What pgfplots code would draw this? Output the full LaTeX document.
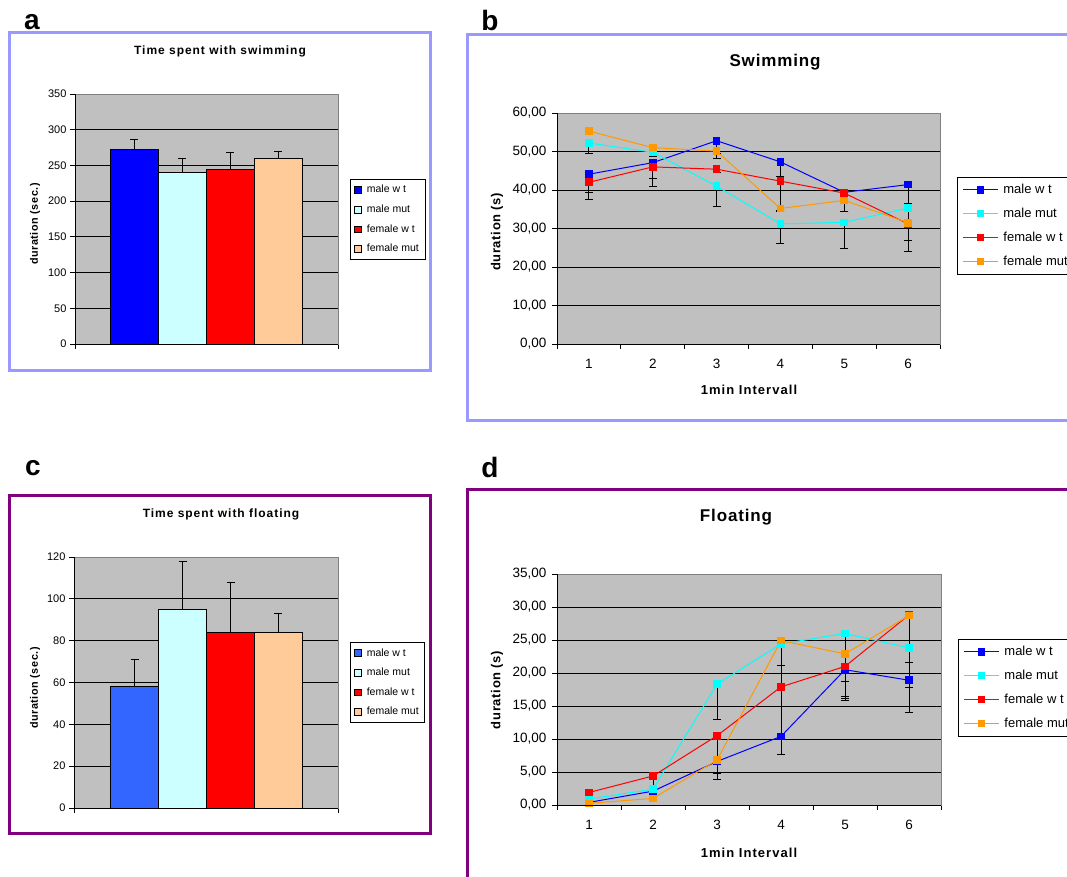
\documentclass[border=0pt]{standalone}
\usepackage{pgfplots}
\pgfplotsset{compat=1.18}
\usepackage{fontspec}
\setmainfont{Liberation Sans}
\newfontfamily\spA[LetterSpace=8]{Liberation Sans}
\newfontfamily\spB[LetterSpace=5]{Liberation Sans}
\definecolor{frameA}{RGB}{153,153,255}
\definecolor{frameC}{RGB}{128,0,128}
\definecolor{plotbg}{RGB}{192,192,192}
\definecolor{cBlue}{RGB}{0,0,255}
\definecolor{cBlueC}{RGB}{51,102,255}
\definecolor{cLight}{RGB}{204,255,255}
\definecolor{cRed}{RGB}{255,0,0}
\definecolor{cPeach}{RGB}{255,204,153}
\definecolor{cCyan}{RGB}{0,255,255}
\definecolor{cOrange}{RGB}{255,153,0}
\definecolor{borderGray}{RGB}{128,128,128}

\pgfplotsset{
  excelbase/.style={
    scale only axis,
    axis background/.style={fill=plotbg},
    axis line style={borderGray, line width=0.8pt},
    tick style={black, line width=0.8pt},
    tick align=outside,
    major tick length=5pt,
    ymajorgrids,
    major grid style={black, line width=0.8pt},
    tick pos=left,
    /pgf/number format/assume math mode=true,
    legend cell align=left,
    after end axis/.code={
      \draw[borderGray, line width=0.8pt] (rel axis cs:0,1) -- (rel axis cs:1,1) -- (rel axis cs:1,0);
      \draw[black, line width=0.8pt] (rel axis cs:0,1) -- (rel axis cs:0,0) -- (rel axis cs:1,0);
    },
  },
  barpanel/.style={excelbase,
    xmin=75, xmax=338, ymin=0,
    xtick={75,338}, xticklabels={},
    ticklabel style={font=\fontsize{11}{11}\selectfont},
    legend style={anchor=north west, draw=black, line width=0.6pt,
      font=\fontsize{10.5}{12}\selectfont, row sep=6.5pt, inner sep=4pt},
  },
  mybar/.style={ybar, bar width=48, bar shift=0pt, draw=black, line width=0.7pt, fill=#1,
    legend image code/.code={\draw[fill=#1, draw=black, line width=0.5pt] (0pt,-3.3pt) rectangle (6.6pt,3.3pt);
      \path (10pt,0pt);},
    error bars/.cd, y dir=plus, y explicit,
    error bar style={black, line width=0.8pt},
    error mark options={black, rotate=90, mark size=4pt, line width=0.8pt}},
  linepanel/.style={excelbase,
    xmin=0.5, xmax=6.5, ymin=0,
    xtick={0.5,1.5,...,6.5}, xticklabels={},
    extra x ticks={1,2,3,4,5,6}, extra x tick labels={1,2,3,4,5,6},
    extra x tick style={major tick length=0pt},
    ticklabel style={font=\fontsize{13.5}{13.5}\selectfont},
    xticklabel style={yshift=-12pt},
    yticklabel style={xshift=-2pt, /pgf/number format/fixed, /pgf/number format/fixed zerofill,
      /pgf/number format/precision=2, /pgf/number format/use comma},
    scaled y ticks=false,
    legend style={anchor=north west, draw=black, line width=0.6pt,
      font=\fontsize{13}{14}\selectfont, row sep=9pt, inner sep=5pt},
  },
  myline/.style={draw=#1, line width=1pt, mark=square*, mark size=3.3pt,
    mark options={solid, fill=#1, draw=#1},
    legend image code/.code={\draw[draw=#1, line width=1.2pt] (0pt,0pt) -- (35pt,0pt);
      \fill[#1] (14.2pt,-3.3pt) rectangle (20.8pt,3.3pt);
      \path (38pt,0pt);},
    error bars/.cd, y dir=minus, y explicit,
    error bar style={black, line width=1pt},
    error mark options={black, rotate=90, mark size=4pt, line width=1pt}},
}

\begin{document}
\begin{tikzpicture}
\useasboundingbox (0pt,0pt) rectangle (1067pt,876pt);

% frames
\draw[frameA, line width=3pt] (9.5pt,843pt) rectangle (430.5pt,505.5pt);
\draw[frameA, line width=3pt] (467pt,841pt) rectangle (1090pt,455pt);
\draw[frameC, line width=3pt] (9.5pt,380pt) rectangle (430.5pt,43pt);
\draw[frameC, line width=3pt] (467pt,386pt) rectangle (1090pt,-20pt);

% panel letters
\node[font=\fontsize{28}{28}\selectfont\bfseries] at (32pt,854pt) {a};
\node[font=\fontsize{28}{28}\selectfont\bfseries] at (490pt,855pt) {b};
\node[font=\fontsize{28}{28}\selectfont\bfseries] at (33pt,408pt) {c};
\node[font=\fontsize{28}{28}\selectfont\bfseries] at (490pt,409pt) {d};

% titles and labels
\node[font=\spA\fontsize{12}{13}\selectfont\bfseries] at (220pt,825pt) {Time spent with swimming};
\node[font=\spA\fontsize{12}{13}\selectfont\bfseries] at (221pt,362pt) {Time spent with floating};
\node[font=\spB\fontsize{17}{18}\selectfont\bfseries] at (775pt,814pt) {Swimming};
\node[font=\spB\fontsize{17}{18}\selectfont\bfseries] at (736pt,359pt) {Floating};
\node[font=\spB\fontsize{10.8}{12}\selectfont\bfseries, rotate=90] at (35pt,652pt) {duration (sec.)};
\node[font=\spB\fontsize{10.8}{12}\selectfont\bfseries, rotate=90] at (35pt,188pt) {duration (sec.)};
\node[font=\spB\fontsize{13}{14}\selectfont\bfseries, rotate=90] at (497pt,644pt) {duration (s)};
\node[font=\spB\fontsize{13}{14}\selectfont\bfseries, rotate=90] at (497pt,186pt) {duration (s)};
\node[font=\spA\fontsize{13}{14}\selectfont\bfseries] at (749pt,486pt) {1min Intervall};
\node[font=\spA\fontsize{13}{14}\selectfont\bfseries] at (749pt,23pt) {1min Intervall};

% ---------- panel a ----------
\begin{axis}[barpanel, at={(75pt,532pt)}, anchor=south west, width=263pt, height=250pt,
  ymax=350, ytick={0,50,...,350},
  legend style={at={(1.0456,0.66)}}]
\addplot[mybar=cBlue] coordinates {(134,272) +- (0,14)};
\addplot[mybar=cLight] coordinates {(182,241) +- (0,19)};
\addplot[mybar=cRed] coordinates {(230,245) +- (0,23)};
\addplot[mybar=cPeach] coordinates {(278,260) +- (0,9)};
\legend{male w t, male mut, female w t, female mut}
\end{axis}

% ---------- panel c ----------
\begin{axis}[barpanel, at={(74pt,68pt)}, anchor=south west, width=264pt, height=251pt,
  xmin=74, xmax=338, xtick={74,338},
  ymax=120, ytick={0,20,...,120},
  legend style={at={(1.045,0.661)}}]
\addplot[mybar=cBlueC] coordinates {(134.7,58.3) +- (0,12.8)};
\addplot[mybar=cLight] coordinates {(182.7,94.9) +- (0,23.0)};
\addplot[mybar=cRed] coordinates {(230.5,83.9) +- (0,23.8)};
\addplot[mybar=cPeach] coordinates {(278.3,83.9) +- (0,9.1)};
\legend{male w t, male mut, female w t, female mut}
\end{axis}

% ---------- panel b ----------
\begin{axis}[linepanel, at={(557pt,532pt)}, anchor=south west, width=383pt, height=231pt,
  ymax=60, ytick={0,10,...,60},
  legend style={at={(1.0444,0.7229)}}]
\addplot[myline=cBlue] coordinates {
  (1,44.1) +- (0,4.8) (2,47.1) +- (0,4.2) (3,52.8) +- (0,4.6)
  (4,47.3) +- (0,3.8) (5,39.4) +- (0,5.0) (6,41.4) +- (0,4.9)};
\addplot[myline=cCyan] coordinates {
  (1,52.2) +- (0,2.7) (2,49.8) +- (0,1.1) (3,41.0) +- (0,5.2)
  (4,31.2) +- (0,5.1) (5,31.6) +- (0,6.9) (6,35.3) +- (0,4.8)};
\addplot[myline=cRed] coordinates {
  (1,42.0) +- (0,4.5) (2,46.0) +- (0,5.1) (3,45.4) +- (0,0.8)
  (4,42.3) +- (0,7.5) (5,39.2) +- (0,0.5) (6,31.2) +- (0,7.2)};
\addplot[myline=cOrange] coordinates {
  (1,55.3) +- (0,0.8) (2,51.0) +- (0,2.3) (3,50.1) +- (0,0.5)
  (4,35.2) +- (0,0.7) (5,37.3) +- (0,2.8) (6,31.5) +- (0,4.5)};
\legend{male w t, male mut, female w t, female mut}
\end{axis}

% ---------- panel d ----------
\begin{axis}[linepanel, at={(557pt,71pt)}, anchor=south west, width=384pt, height=231pt,
  ymax=35, ytick={0,5,...,35},
  legend style={at={(1.0443,0.7186)}}]
\addplot[myline=cBlue] coordinates {
  (1,0.4) +- (0,0.2) (2,2.1) +- (0,0.5) (3,6.6) +- (0,2.8)
  (4,10.4) +- (0,2.8) (5,20.5) +- (0,4.3) (6,18.9) +- (0,1.1)};
\addplot[myline=cCyan] coordinates {
  (1,0.9) +- (0,0.2) (2,2.4) +- (0,0.8) (3,18.3) +- (0,5.4)
  (4,24.4) +- (0,3.2) (5,26.0) +- (0,7.3) (6,23.8) +- (0,2.2)};
\addplot[myline=cRed] coordinates {
  (1,1.9) +- (0,0.2) (2,4.4) +- (0,2.0) (3,10.5) +- (0,5.7)
  (4,17.9) +- (0,7.7) (5,21.0) +- (0,5.1) (6,28.8) +- (0,14.8)};
\addplot[myline=cOrange] coordinates {
  (1,0.25) +- (0,0.1) (2,1.0) +- (0,0.5) (3,6.8) +- (0,0.5)
  (4,24.9) +- (0,7.4) (5,22.9) +- (0,6.5) (6,28.7) +- (0,4.6)};
\legend{male w t, male mut, female w t, female mut}
\end{axis}
\end{tikzpicture}
\end{document}
